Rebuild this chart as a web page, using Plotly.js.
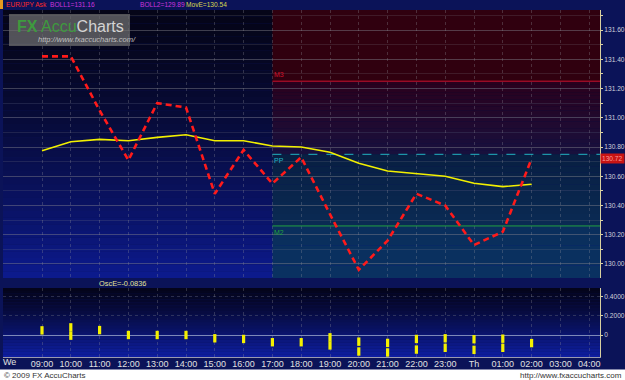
<!DOCTYPE html>
<html><head><meta charset="utf-8">
<script src="https://cdn.plot.ly/plotly-3.0.1.min.js"></script>
<style>html,body{margin:0;padding:0;background:#fff;}#chart{width:625px;height:380px;}</style>
</head><body><div id="chart"></div>
<script>
// ---- data ----
const hours = [9,10,11,12,13,14,15,16,17,18,19,20,21,22,23,24,25,26];
const closePrice = [131.42,131.42,131.05,130.71,131.10,131.07,130.48,130.78,130.55,130.73,130.34,129.96,130.16,130.48,130.40,130.13,130.22,130.72];
const movE = [130.775,130.836,130.852,130.843,130.866,130.884,130.843,130.843,130.807,130.800,130.764,130.689,130.636,130.620,130.600,130.552,130.529,130.545];
const oscUpper = [0.048,0.079,0.051,0.0,0.0,0.0,-0.034,-0.041,-0.075,-0.075,-0.024,-0.069,-0.082,-0.041,-0.034,-0.044,-0.038,-0.084];
const oscLower = [null,-0.007,null,null,null,null,null,null,null,null,-0.108,-0.171,-0.181,-0.151,-0.133,-0.154,-0.133,null];
const tickHours = [9,10,11,12,13,14,15,16,17,18,19,20,21,22,23,24,25,26,27,28];
const tickLabels = ['09:00','10:00','11:00','12:00','13:00','14:00','15:00','16:00','17:00','18:00','19:00','20:00','21:00','22:00','23:00','Th','01:00','02:00','03:00','04:00'];
const priceTicks = [130.0,130.2,130.4,130.6,130.8,131.0,131.2,131.4,131.6];
const oscTicks = [0,0.2,0.4];
const oscTickLabels = ['0','0.2000','0.4000'];
const levelNames = ['M3','PP','M2'];
const levelValues = [131.25,130.75,130.26];
const levelStart = 17;
const headerTexts = ['EUR/JPY Ask','BOLL1=131.16','BOLL2=129.89','MovE=130.54'];
const oscLabel = 'OscE=-0.0836';

// ---- geometry helpers (pixel -> paper) ----
const W=625,H=380,ML=3,MR=25,MT=10,MB=23;
const PW=W-ML-MR, PH=H-MT-MB;
const px=x=>(x-ML)/PW, py=y=>(H-MB-y)/PH;
const xRange=[7.646,28.375];
const yRange=[129.904,131.737];
const y2Range=[-0.228,0.487];
const mainDom=[py(278),1], oscDom=[0,py(288)];

function hex2rgb(h){h=h.replace('#','');return [0,2,4].map(i=>parseInt(h.substr(i,2),16));}
function mix(a,b,t){const A=hex2rgb(a),B=hex2rgb(b);return 'rgb('+A.map((v,i)=>Math.round(v+(B[i]-v)*t)).join(',')+')';}
const shapes=[];
function bands(xref,x0,x1,yref,y0,y1,c0,c1,n,ease){
  for(let i=0;i<n;i++){
    const t=(i+0.5)/n;
    const a=y1+(y0-y1)*i/n, b=y1+(y0-y1)*(i+1)/n;
    shapes.push({type:'rect',layer:'below',xref,yref,x0,x1,y0:a,y1:b,line:{width:0},fillcolor:mix(c0,c1,ease?Math.pow(t,ease):t)});
  }
}
bands('paper',0,1,'y',yRange[0],yRange[1],'#050518','#0c1a8e',40,1.4);
const [m3,pp,m2]=levelValues;
shapes.push({type:'rect',layer:'below',xref:'x',yref:'y',x0:levelStart,x1:40,y0:m3,y1:yRange[1]+1,line:{width:0},fillcolor:'#30000f'});
bands('x',levelStart,40,'y',pp,m3,'#2a001c','#18103e',20,1);
bands('x',levelStart,40,'y',m2,pp,'#081e42','#0a2a54',12,1);
bands('x',levelStart,40,'y',yRange[0]-1,m2,'#0a2e5c','#0b3870',10,1);
bands('paper',0,1,'y2',y2Range[0],y2Range[1],'#04041a','#0e1ea2',24,1.2);
shapes.push({type:'rect',xref:'paper',yref:'paper',x0:px(0),x1:px(3),y0:py(9),y1:py(0),line:{width:0},fillcolor:'#e89a20'});
shapes.push({type:'rect',xref:'paper',yref:'paper',x0:px(9),x1:px(130),y0:py(46),y1:py(14),line:{width:0},fillcolor:'rgba(112,112,112,0.72)'});
shapes.push({type:'rect',xref:'paper',yref:'paper',x0:px(0),x1:px(W),y0:py(H),y1:py(369.5),line:{width:0},fillcolor:'#ffffff'});

const levelColors=['#d0102a','#22b4c4','#22a040'];
const traces=[];
levelValues.forEach((v,i)=>{
  traces.push({x:[levelStart,xRange[1]],y:[v,v],xaxis:'x',yaxis:'y',mode:'lines',hoverinfo:'skip',
    line:{color:levelColors[i],width:1,dash:i===1?'dash':'solid'}});
});
traces.push({x:hours,y:movE,xaxis:'x',yaxis:'y',mode:'lines',line:{color:'#f2f000',width:1.6},hoverinfo:'skip'});
traces.push({x:hours,y:closePrice,xaxis:'x',yaxis:'y',mode:'lines',line:{color:'#ff1a1a',width:2.6,dash:'6px,4px'},hoverinfo:'skip'});
[oscUpper,oscLower].forEach(arr=>{
  traces.push({x:hours,y:arr,xaxis:'x',yaxis:'y2',mode:'markers',hoverinfo:'skip',
    marker:{symbol:'line-ns',size:6,color:'#f4f000',line:{color:'#f4f000',width:3.2}}});
});

const font='Liberation Sans, Arial, sans-serif';
const ann=[];
const hdrX=[4,48,138,184], hdrC=['#ff2a2a','#cc33dd','#cc33dd','#d8d850'];
headerTexts.forEach((t,i)=>ann.push({xref:'paper',yref:'paper',x:px(hdrX[i]),y:py(4.5),xanchor:'left',yanchor:'middle',showarrow:false,text:t,font:{family:font,size:6.6,color:hdrC[i]}}));
ann.push({xref:'paper',yref:'paper',x:px(97),y:py(283),xanchor:'left',yanchor:'middle',showarrow:false,text:oscLabel,font:{family:font,size:7.4,color:'#e4e49a'}});
levelValues.forEach((v,i)=>ann.push({xref:'x',yref:'y',x:levelStart,y:v,xanchor:'left',yanchor:i===0?'bottom':'top',yshift:i===0?1:-1,showarrow:false,text:levelNames[i],font:{family:font,size:7,color:levelColors[i]}}));
ann.push({xref:'paper',yref:'y',x:1,xshift:0,y:closePrice[closePrice.length-1],xanchor:'left',yanchor:'middle',showarrow:false,
  text:closePrice[closePrice.length-1].toFixed(2),bgcolor:'#c81414',borderpad:1,font:{family:font,size:6.6,color:'#ff9a9a'}});
ann.push({xref:'paper',yref:'paper',x:px(15),y:py(27),xanchor:'left',yanchor:'middle',showarrow:false,
  text:'<span style="color:#3e9a3e"><b>FX</b> Accu</span><span style="color:#d4d4d4">Charts</span>',font:{family:font,size:16}});
ann.push({xref:'paper',yref:'paper',x:px(36),y:py(39.5),xanchor:'left',yanchor:'middle',showarrow:false,
  text:'<i>http://www.fxaccucharts.com/</i>',font:{family:font,size:7.5,color:'#c0c0c0'}});
ann.push({xref:'paper',yref:'paper',x:px(1),y:py(362),xanchor:'left',yanchor:'middle',showarrow:false,text:'We',font:{family:font,size:9,color:'#e0e0e0'}});
ann.push({xref:'paper',yref:'paper',x:px(2),y:py(375),xanchor:'left',yanchor:'middle',showarrow:false,text:'© 2009 FX AccuCharts',font:{family:font,size:8,color:'#333333'}});
ann.push({xref:'paper',yref:'paper',x:px(624),y:py(375),xanchor:'right',yanchor:'middle',showarrow:false,text:'http://www.fxaccucharts.com',font:{family:font,size:8,color:'#333333'}});

const layout={
  width:W,height:H,margin:{l:ML,r:MR,t:MT,b:MB},
  paper_bgcolor:'#0b1358',plot_bgcolor:'rgba(0,0,0,0)',showlegend:false,
  font:{family:font},
  xaxis:{range:xRange,anchor:'y2',tickvals:tickHours,ticktext:tickLabels,tickfont:{size:9,color:'#e0e0e0'},
    showgrid:true,gridcolor:'rgba(150,150,160,0.3)',griddash:'dot',gridwidth:1,zeroline:false,
    showline:true,linecolor:'#9a9ab0',ticks:'',ticklabelstandoff:-2,fixedrange:true},
  yaxis:{domain:mainDom,range:yRange,side:'right',anchor:'x',tickvals:priceTicks,ticktext:priceTicks.map(v=>v.toFixed(2)),
    tickfont:{size:6.6,color:'#d0d0d8'},showgrid:true,gridcolor:'rgba(130,130,140,0.32)',zeroline:false,
    minor:{dtick:0.1,tick0:130,showgrid:true,gridcolor:'rgba(130,130,140,0.2)',ticks:'outside',ticklen:2,tickcolor:'#d8d0a0'},
    showline:true,linecolor:'#d8d0a0',ticks:'outside',ticklen:2,tickcolor:'#d8d0a0',ticklabelstandoff:0},
  yaxis2:{domain:oscDom,range:y2Range,side:'right',anchor:'x',tickvals:oscTicks,ticktext:oscTickLabels,
    tickfont:{size:6.6,color:'#d0d0d8'},showgrid:true,gridcolor:'rgba(140,140,150,0.3)',griddash:'dot',
    zeroline:true,zerolinecolor:'#7d88b8',zerolinewidth:1,
    showline:true,linecolor:'#d8d0a0',ticks:'outside',ticklen:2,tickcolor:'#d8d0a0'},
  shapes,annotations:ann
};
Plotly.newPlot('chart',traces,layout,{staticPlot:true,displayModeBar:false});
</script></body></html>
